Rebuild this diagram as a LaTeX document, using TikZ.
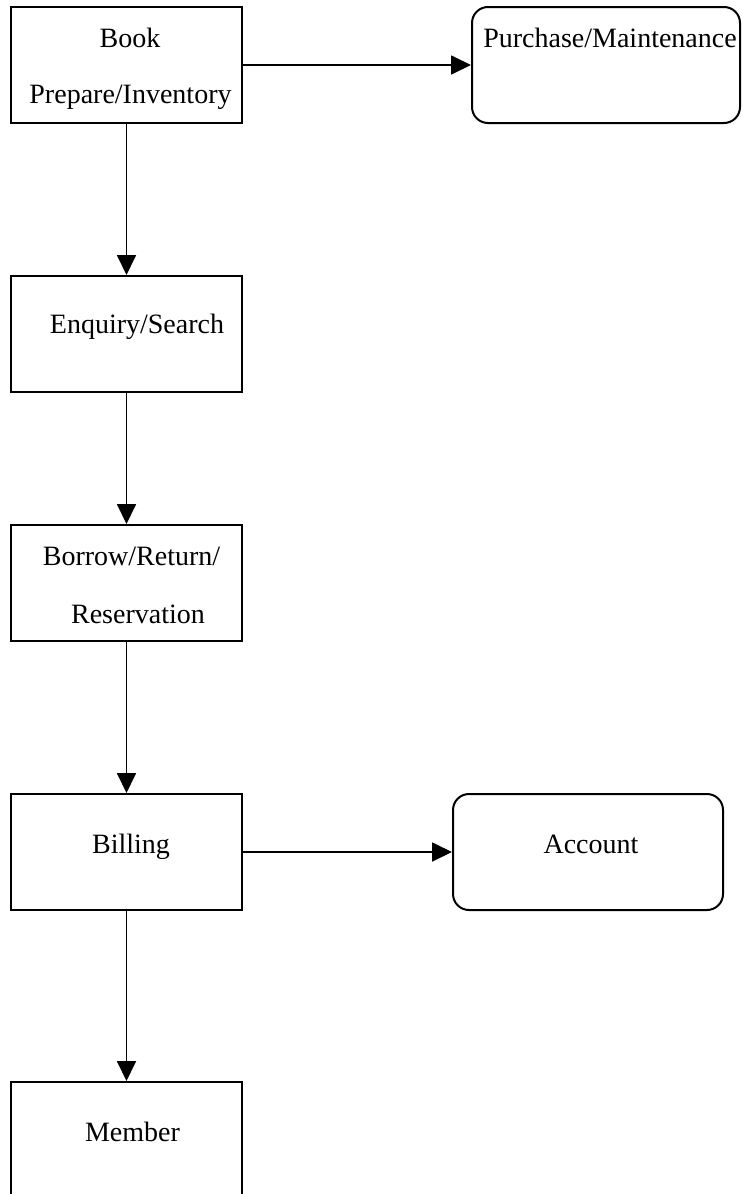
\documentclass[tikz,border=0pt]{standalone}
\usepackage{fontspec}
\setmainfont{Liberation Serif}
\usetikzlibrary{arrows.meta}
\begin{document}
\begin{tikzpicture}[x=1pt,y=-1pt,
  stepbox/.style={draw, line width=2pt, minimum width=231pt, minimum height=116pt, inner sep=0pt},
  roundbox/.style={stepbox, rounded corners=16pt},
  lbl/.style={anchor=base, inner sep=0pt, font=\fontsize{28}{34}\selectfont},
  flow/.style={line width=1.8pt, -{Triangle[length=20pt,width=19pt]}}]
\clip (0,0) rectangle (742,1194);

% process boxes
\node[stepbox] (book) at (126.5,65) {};
\node[roundbox, minimum width=268pt] (purch) at (606,65) {};
\node[stepbox] (enq) at (126.5,334) {};
\node[stepbox] (borrow) at (126.5,583) {};
\node[stepbox] (bill) at (126.5,852) {};
\node[roundbox, minimum width=270pt] (acct) at (588,852) {};
\node[stepbox] (member) at (126.5,1140) {};

% box captions
\node[lbl] (bookT1) at (130,47) {Book};
\node[lbl] (bookT2) at (130.5,103) {Prepare/Inventory};
\node[lbl] (purchT) at (610,47) {Purchase/Maintenance};
\node[lbl] (enqT) at (137,333) {Enquiry/Search};
\node[lbl] (borT1) at (131.5,565) {Borrow/Return/};
\node[lbl] (borT2) at (138,623) {Reservation};
\node[lbl] (billT) at (131,853) {Billing};
\node[lbl] (acctT) at (591,853) {Account};
\node[lbl] (memT) at (132.5,1141) {Member};

% flow
\draw[flow] (book.east) -- (purch.west);
\draw[flow] (book.south) -- (enq.north);
\draw[flow] (enq.south) -- (borrow.north);
\draw[flow] (borrow.south) -- (bill.north);
\draw[flow] (bill.east) -- (acct.west);
\draw[flow] (bill.south) -- (member.north);
\end{tikzpicture}
\end{document}
